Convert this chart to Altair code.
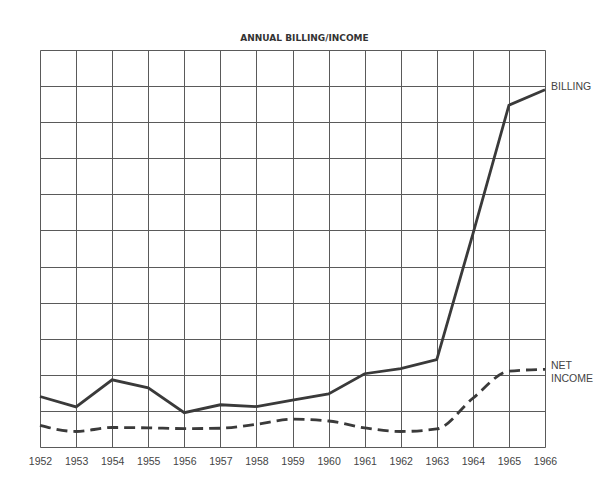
import altair as alt
import pandas as pd

years = list(range(1952, 1967))
billing = [1.4, 1.11, 1.86, 1.64, 0.95, 1.17, 1.12, 1.3, 1.47, 2.03, 2.17, 2.42, 5.9, 9.47, 9.9]
net_income = [0.6, 0.43, 0.54, 0.53, 0.51, 0.52, 0.63, 0.77, 0.72, 0.53, 0.43, 0.5, 1.35, 2.1, 2.15]
grid_values = list(range(0, 12))
title_text = "ANNUAL BILLING/INCOME"
label_rows = [
    {"year": 1966, "value": 9.9, "text": ["BILLING"]},
    {"year": 1966, "value": 2.15, "text": ["NET", "INCOME"]},
]

df = pd.DataFrame({"year": years, "billing": billing, "net": net_income})
labels = pd.DataFrame(label_rows)

ink = "#3a3a3a"
gridc = "#5a5a5a"

xscale = alt.Scale(domain=[1952, 1966], nice=False, zero=False)
xaxis = alt.Axis(values=years, format="d", title=None, ticks=False, domain=False,
                 grid=True, gridColor=gridc, gridWidth=1, gridOpacity=1,
                 labelFont="Liberation Sans", labelFontSize=10.5, labelColor="#444444",
                 labelPadding=9, labelFlush=False, labelOverlap=False, tickCount=15)
yscale = alt.Scale(domain=[0, 11], nice=False, zero=True)
yaxis = alt.Axis(values=grid_values, labels=False, ticks=False, domain=False, title=None,
                 grid=True, gridColor=gridc, gridWidth=1, gridOpacity=1, tickCount=12)

base = alt.Chart(df)

bill = base.mark_line(color=ink, strokeWidth=2.8).encode(
    x=alt.X("year:Q", scale=xscale, axis=xaxis),
    y=alt.Y("billing:Q", scale=yscale, axis=yaxis))

net = base.mark_line(color=ink, strokeWidth=2.8, strokeDash=[11, 6], interpolate="monotone").encode(
    x=alt.X("year:Q", scale=xscale, axis=xaxis),
    y=alt.Y("net:Q", scale=yscale, axis=yaxis))

txt = alt.Chart(labels).mark_text(align="left", baseline="middle", dx=6, dy=-3,
                                  font="Liberation Sans", fontSize=10.5, color="#444444",
                                  lineHeight=13).encode(
    x=alt.X("year:Q", scale=xscale, axis=xaxis),
    y=alt.Y("value:Q", scale=yscale, axis=yaxis), text="text")

chart = alt.layer(bill, net, txt).properties(
    width=505, height=397,
    title=alt.TitleParams(title_text, font="DejaVu Sans", fontSize=9, fontWeight="bold",
                          color="#333333", anchor="middle", offset=7, dx=12),
    padding={"left": 32, "top": 42, "right": 55, "bottom": 22},
    autosize=alt.AutoSizeParams(type="none"),
).configure_view(stroke=gridc, strokeWidth=1).configure(background="white")

chart.save("out.html", embed_options={"renderer": "svg", "actions": False})
